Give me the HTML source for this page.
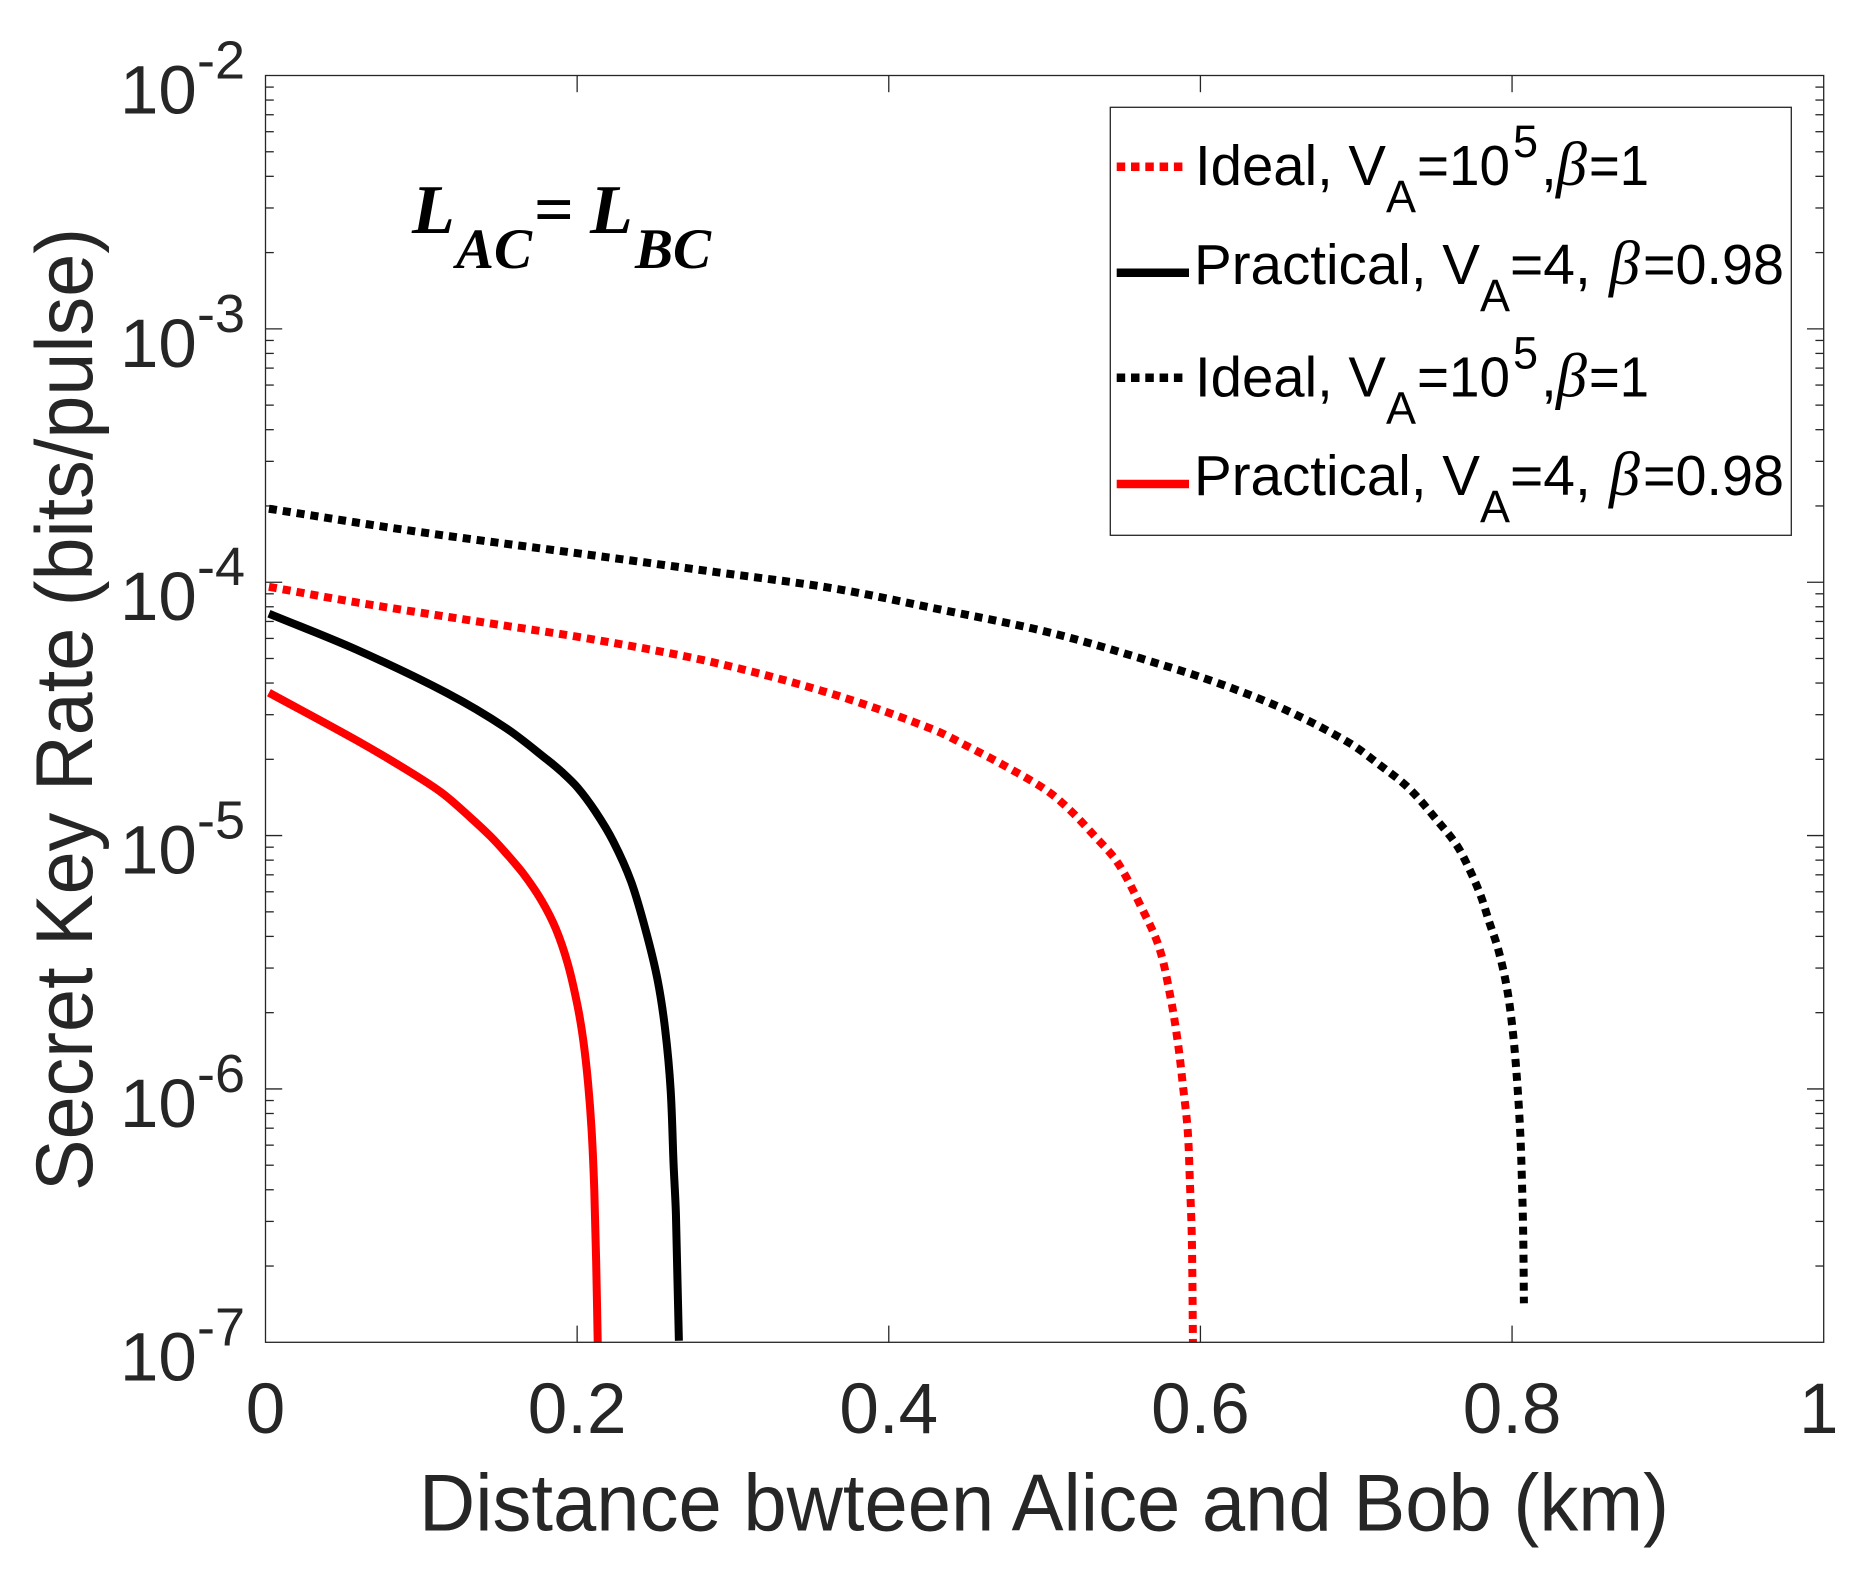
<!DOCTYPE html>
<html lang="en">
<head>
<meta charset="utf-8">
<title>Secret Key Rate vs Distance</title>
<style>
  html, body { margin: 0; padding: 0; background: #fff; }
  svg { display: block; }
  text { font-family: "Liberation Sans", sans-serif; }
  .tick { fill: #262626; font-size: 71px; }
  .tick-base { fill: #262626; font-size: 69px; }
  .sup { fill: #262626; font-size: 54px; }
  .axis-title { fill: #262626; font-size: 81px; }
  .leg { fill: #000; font-size: 57px; }
  .leg-small { fill: #000; font-size: 45px; }
  .beta { fill: #000; font-family: "Liberation Serif", serif; font-style: italic; font-size: 62px; }
  .note { fill: #000; font-family: "Liberation Serif", serif; font-style: italic; font-weight: bold; }
</style>
</head>
<body>
<svg id="chart" xmlns="http://www.w3.org/2000/svg" width="1866" height="1573" viewBox="0 0 1866 1573">
  <rect x="0" y="0" width="1866" height="1573" fill="#fff"/>
  <defs>
    <clipPath id="plot-clip"><rect x="265.5" y="75.5" width="1558.2" height="1266.8"/></clipPath>
  </defs>
  <g id="ticks"></g>
  <g id="tick-labels"></g>
  <g id="series" clip-path="url(#plot-clip)"></g>
  <rect x="265.5" y="75.5" width="1558.2" height="1266.8" fill="none" stroke="#262626" stroke-width="1.3"/>

  <text class="axis-title" x="419" y="1530.5" textLength="1250" lengthAdjust="spacingAndGlyphs">Distance bwteen Alice and Bob (km)</text>
  <text class="axis-title" transform="translate(92,1191) rotate(-90)" x="0" y="0" textLength="963" lengthAdjust="spacingAndGlyphs">Secret Key Rate (bits/pulse)</text>

  <g>
    <text class="note" x="412" y="233" font-size="70">L</text>
    <text class="note" x="456" y="268" font-size="57">AC</text>
    <text class="note" x="534" y="233" font-size="70" style="font-style:normal">=</text>
    <text class="note" x="590" y="233" font-size="70">L</text>
    <text class="note" x="635" y="268" font-size="57">BC</text>
  </g>

  <g>
    <rect x="1110.3" y="107.3" width="681" height="428" fill="#fff" stroke="#262626" stroke-width="1.3"/>

    <g>
      <line x1="1116.7" x2="1182.5" y1="166.7" y2="166.7" stroke="#f00" stroke-width="8.5" stroke-dasharray="8.5 5.8"/>
      <text class="leg" x="1195" y="185" textLength="191" lengthAdjust="spacingAndGlyphs">Ideal, V</text>
      <text class="leg-small" x="1386" y="212">A</text>
      <text class="leg" x="1417" y="185" textLength="93" lengthAdjust="spacingAndGlyphs">=10</text>
      <text class="leg-small" x="1513" y="157">5</text>
      <text class="leg" x="1541" y="185">,</text>
      <text class="beta" x="1556" y="185">β</text>
      <text class="leg" x="1589" y="185" textLength="60" lengthAdjust="spacingAndGlyphs">=1</text>
    </g>

    <g>
      <line x1="1116.7" x2="1189" y1="272.7" y2="272.7" stroke="#000" stroke-width="8.5"/>
      <text class="leg" x="1194" y="284" textLength="286" lengthAdjust="spacingAndGlyphs">Practical, V</text>
      <text class="leg-small" x="1480" y="311">A</text>
      <text class="leg" x="1510" y="284">=4,</text>
      <text class="beta" x="1609" y="284">β</text>
      <text class="leg" x="1643" y="284" textLength="141" lengthAdjust="spacingAndGlyphs">=0.98</text>
    </g>

    <g>
      <line x1="1116.7" x2="1182.5" y1="377.7" y2="377.7" stroke="#000" stroke-width="8.5" stroke-dasharray="8.5 5.8"/>
      <text class="leg" x="1195" y="396.7" textLength="191" lengthAdjust="spacingAndGlyphs">Ideal, V</text>
      <text class="leg-small" x="1386" y="423.7">A</text>
      <text class="leg" x="1417" y="396.7" textLength="93" lengthAdjust="spacingAndGlyphs">=10</text>
      <text class="leg-small" x="1513" y="368.7">5</text>
      <text class="leg" x="1541" y="396.7">,</text>
      <text class="beta" x="1556" y="396.7">β</text>
      <text class="leg" x="1589" y="396.7" textLength="60" lengthAdjust="spacingAndGlyphs">=1</text>
    </g>

    <g>
      <line x1="1116.7" x2="1189" y1="484" y2="484" stroke="#f00" stroke-width="8.5"/>
      <text class="leg" x="1194" y="495" textLength="286" lengthAdjust="spacingAndGlyphs">Practical, V</text>
      <text class="leg-small" x="1480" y="522">A</text>
      <text class="leg" x="1510" y="495">=4,</text>
      <text class="beta" x="1609" y="495">β</text>
      <text class="leg" x="1643" y="495" textLength="141" lengthAdjust="spacingAndGlyphs">=0.98</text>
    </g>
  </g>
</svg>
<script>
// ---- chart data ----
const xTickValues = [0, 0.2, 0.4, 0.6, 0.8, 1];
const xTickLabels = ["0", "0.2", "0.4", "0.6", "0.8", "1"];
const yTickExponents = [-2, -3, -4, -5, -6, -7];
const yMinorMultipliers = [2, 3, 4, 5, 6, 7, 8, 9];

const idealBlackDistance = [0.0022, 0.0969, 0.2115, 0.2878, 0.3642, 0.4284, 0.5048, 0.5811, 0.6193, 0.6575, 0.6957, 0.7148, 0.7339, 0.7530, 0.7644, 0.7721, 0.7797, 0.7854, 0.7912, 0.7969, 0.8007, 0.8034, 0.8053, 0.8064, 0.8072, 0.8076];
const idealBlackLogRate = [-3.710, -3.800, -3.895, -3.959, -4.024, -4.102, -4.201, -4.337, -4.416, -4.512, -4.635, -4.720, -4.814, -4.948, -5.037, -5.126, -5.234, -5.342, -5.451, -5.608, -5.786, -5.983, -6.180, -6.377, -6.594, -6.846];

const idealRedDistance = [0.0022, 0.0587, 0.1351, 0.2115, 0.2878, 0.3642, 0.4284, 0.4513, 0.4742, 0.5009, 0.5162, 0.5315, 0.5468, 0.5621, 0.5735, 0.5811, 0.5857, 0.5887, 0.5918, 0.5933, 0.5945, 0.5952];
const idealRedLogRate = [-4.018, -4.080, -4.154, -4.227, -4.317, -4.442, -4.581, -4.650, -4.724, -4.820, -4.899, -4.998, -5.106, -5.283, -5.441, -5.648, -5.825, -5.983, -6.160, -6.377, -6.594, -7.000];

const practicalBlackDistance = [0.0022, 0.0587, 0.1160, 0.1542, 0.1811, 0.1902, 0.2002, 0.2116, 0.2231, 0.2346, 0.2439, 0.2516, 0.2565, 0.2600, 0.2619, 0.2634, 0.2653];
const practicalBlackLogRate = [-4.124, -4.267, -4.436, -4.575, -4.702, -4.749, -4.810, -4.904, -5.022, -5.181, -5.372, -5.569, -5.766, -6.003, -6.298, -6.495, -6.994];

const practicalRedDistance = [0.0022, 0.0587, 0.0931, 0.1138, 0.1314, 0.1444, 0.1543, 0.1658, 0.1772, 0.1864, 0.1940, 0.2002, 0.2040, 0.2070, 0.2093, 0.2110, 0.2122, 0.2132];
const practicalRedLogRate = [-4.436, -4.625, -4.750, -4.834, -4.928, -5.003, -5.069, -5.153, -5.257, -5.369, -5.506, -5.670, -5.811, -5.976, -6.164, -6.398, -6.680, -7.000];

// ---- axes ----
const NS = "http://www.w3.org/2000/svg";
const plotLeft = 265.5, plotRight = 1823.7, plotTop = 75.5, plotBottom = 1342.3;
const xMin = 0, xMax = 1, logMax = -2, logMin = -7;
function xScale(v) { return plotLeft + (v - xMin) / (xMax - xMin) * (plotRight - plotLeft); }
function yScale(l) { return plotTop + (logMax - l) / (logMax - logMin) * (plotBottom - plotTop); }

function mk(tag, attrs, parent, txt) {
  const el = document.createElementNS(NS, tag);
  for (const k in attrs) el.setAttribute(k, attrs[k]);
  if (txt !== undefined) el.textContent = txt;
  parent.appendChild(el);
  return el;
}
function tickLine(x1, y1, x2, y2, name) {
  const el = mk("line", { x1: x1, y1: y1, x2: x2, y2: y2, stroke: "#262626", "stroke-width": 1.3 }, ticksG);
  
  
}

const ticksG = document.getElementById("ticks");
const labelsG = document.getElementById("tick-labels");
const seriesG = document.getElementById("series");
const majorLen = 16.7, minorLen = 8.3;

xTickValues.forEach(function (v, i) {
  const x = xScale(v);
  if (v > xMin && v < xMax) {
    tickLine(x, plotBottom, x, plotBottom - majorLen, "x-tick-bottom");
    tickLine(x, plotTop, x, plotTop + majorLen, "x-tick-top");
  }
  const t = mk("text", { x: v === xMax ? x - 5 : x, y: 1433, "text-anchor": "middle", class: "tick" }, labelsG, xTickLabels[i]);
  
  
});

yTickExponents.forEach(function (e) {
  const y = yScale(e);
  if (e > logMin && e < logMax) {
    tickLine(plotLeft, y, plotLeft + majorLen, y, "y-tick-left");
    tickLine(plotRight, y, plotRight - majorLen, y, "y-tick-right");
  }
  if (e > logMin) {
    yMinorMultipliers.forEach(function (m) {
      const ym = yScale(e - 1 + Math.log10(m));
      tickLine(plotLeft, ym, plotLeft + minorLen, ym, "y-minor-tick-left");
      tickLine(plotRight, ym, plotRight - minorLen, ym, "y-minor-tick-right");
    });
  }
  const base = mk("text", { x: 120, y: y + 38, class: "tick-base" }, labelsG, "10");
  
  
  const sup = mk("text", { x: 197, y: y + 3, class: "sup" }, labelsG, String(e));
  
  
});

// Smooth path through the data points: tangent at each point follows its
// neighbours, handle length is a third of the adjoining segment.
function smoothPath(xs, ys) {
  const pts = xs.map(function (v, i) { return [xScale(v), yScale(ys[i])]; });
  function tangent(i) {
    const a = pts[Math.max(i - 1, 0)], b = pts[Math.min(i + 1, pts.length - 1)];
    const dx = b[0] - a[0], dy = b[1] - a[1], n = Math.hypot(dx, dy) || 1;
    return [dx / n, dy / n];
  }
  let d = "M" + pts[0][0].toFixed(2) + " " + pts[0][1].toFixed(2);
  for (let i = 0; i < pts.length - 1; i++) {
    const p = pts[i], q = pts[i + 1];
    const len = Math.hypot(q[0] - p[0], q[1] - p[1]) / 3;
    const t0 = tangent(i), t1 = tangent(i + 1);
    d += " C" + (p[0] + t0[0] * len).toFixed(2) + " " + (p[1] + t0[1] * len).toFixed(2) +
         " " + (q[0] - t1[0] * len).toFixed(2) + " " + (q[1] - t1[1] * len).toFixed(2) +
         " " + q[0].toFixed(2) + " " + q[1].toFixed(2);
  }
  return d;
}

function drawSeries(xs, ys, color, dotted) {
  const attrs = { d: smoothPath(xs, ys), fill: "none", stroke: color, "stroke-width": 8, "stroke-linejoin": "round" };
  if (dotted) attrs["stroke-dasharray"] = "8 6";
  return mk("path", attrs, seriesG);
}

const s1 = drawSeries(idealRedDistance, idealRedLogRate, "#f00", true);


const s2 = drawSeries(practicalBlackDistance, practicalBlackLogRate, "#000", false);


const s3 = drawSeries(idealBlackDistance, idealBlackLogRate, "#000", true);


const s4 = drawSeries(practicalRedDistance, practicalRedLogRate, "#f00", false);


</script>
</body>
</html>
